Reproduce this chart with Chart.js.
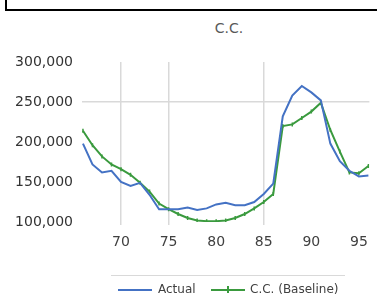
<!DOCTYPE html>
<html><head><meta charset="utf-8">
<script src="https://cdn.jsdelivr.net/npm/chart.js@4.4.1/dist/chart.umd.min.js"></script>
<style>
html,body{margin:0;padding:0;background:#fff;}
#wrap{position:relative;width:377px;height:297px;overflow:hidden;font-family:"DejaVu Sans",sans-serif;}
#box{position:absolute;left:5px;top:-6px;width:420px;height:13px;border:2px solid #000;}
#title{position:absolute;left:229px;top:20px;transform:translateX(-50%);font-size:14px;color:#595959;white-space:nowrap;}
#chart{position:absolute;left:0;top:0;}
#sep{position:absolute;left:111px;top:275px;width:234px;height:1px;background:#d9d9d9;}
.ll{position:absolute;height:2px;top:289px;width:34px;}
.lt{position:absolute;top:282px;font-size:12px;color:#404040;white-space:nowrap;}
</style></head>
<body>
<div id="wrap">
  <div id="box"></div>
  <div id="title">C.C.</div>
  <canvas id="chart" width="377" height="297"></canvas>
  <div id="sep"></div>
  <div class="ll" style="left:118px;background:#4472c4"></div>
  <div class="lt" style="left:158px">Actual</div>
  <div class="ll" style="left:211px;background:#3a9a3e"></div>
  <div style="position:absolute;left:227px;top:286px;width:2px;height:7px;background:#3a9a3e"></div>
  <div class="lt" style="left:250px">C.C. (Baseline)</div>
</div>
<script>
const xValues = [66,67,68,69,70,71,72,73,74,75,76,77,78,79,80,81,82,83,84,85,86,87,88,89,90,91,92,93,94,95,96];
const actual = [198000,172000,162000,164000,150000,145000,149000,134000,116000,116000,116000,118000,115000,117000,122000,124000,121000,121000,125000,135000,148000,232000,258000,270000,262000,252000,198000,176000,164000,157000,158000];
const baseline = [214000,196000,182000,172000,166000,159000,149000,138000,123000,116000,110000,105000,102000,101000,101000,102000,105000,110000,117000,125000,135000,220000,222000,230000,238000,249000,215000,188000,162000,161000,170000];
const xTicks = [70,75,80,85,90,95];
const yTicks = [100000,150000,200000,250000,300000];
const xGridShown = [70,75,85];
const yGridShown = [250000];

const pts = arr => xValues.map((x,i)=>({x:x,y:arr[i]}));

new Chart(document.getElementById('chart'), {
  type:'line',
  data:{datasets:[
    {label:'Actual',data:pts(actual),borderColor:'#4472c4',borderWidth:2,pointRadius:0,tension:0},
    {label:'C.C. (Baseline)',data:pts(baseline),borderColor:'#3a9a3e',borderWidth:2,pointRadius:2,pointStyle:'line',rotation:90,pointBorderColor:'#3a9a3e',pointBorderWidth:1.5,tension:0}
  ]},
  options:{
    responsive:false,animation:false,
    layout:{padding:{left:0,right:4,top:62,bottom:45}},
    plugins:{legend:{display:false},title:{display:false},tooltip:{enabled:false}},
    scales:{
      x:{type:'linear',min:65.9,max:96.1,
        afterBuildTicks:s=>{s.ticks=xTicks.map(v=>({value:v}));},
        afterFit:s=>{s.height=30;},
        border:{display:false},
        grid:{color:c=>xGridShown.includes(c.tick&&c.tick.value)?'#d9d9d9':'rgba(0,0,0,0)',lineWidth:1.5,tickLength:3,drawTicks:true},
        ticks:{padding:9,color:'#404040',font:{family:'DejaVu Sans',size:14},maxRotation:0}
      },
      y:{min:100000,max:300000,
        afterBuildTicks:s=>{s.ticks=yTicks.map(v=>({value:v}));},
        afterFit:s=>{s.width=82;},
        border:{display:false},
        grid:{color:c=>yGridShown.includes(c.tick&&c.tick.value)?'#d9d9d9':'rgba(0,0,0,0)',lineWidth:1.5,drawTicks:false},
        ticks:{padding:9,color:'#333333',font:{family:'DejaVu Sans',size:14},callback:v=>v.toLocaleString('en-US')}
      }
    }
  }
});
</script>
</body></html>
